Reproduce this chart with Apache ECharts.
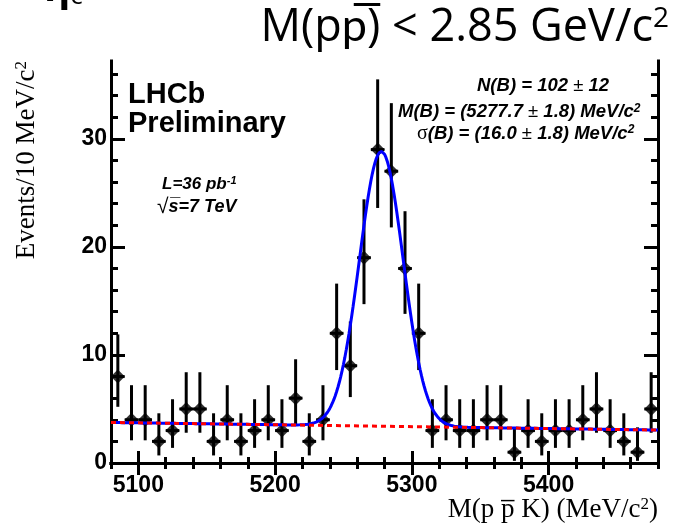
<!DOCTYPE html>
<html>
<head>
<meta charset="utf-8">
<script src="https://cdn.jsdelivr.net/npm/echarts@6/dist/echarts.min.js"></script>
<style>
  html, body { margin: 0; padding: 0; background: #ffffff; }
  #chart { width: 675px; height: 524px; }
</style>
</head>
<body>
<div id="chart"></div>
<script>
// Invariant-mass histogram of p pbar K candidates, 10 MeV/c^2 bins
const binCentres = [5085, 5095, 5105, 5115, 5125, 5135, 5145, 5155, 5165, 5175,
                    5185, 5195, 5205, 5215, 5225, 5235, 5245, 5255, 5265, 5275,
                    5285, 5295, 5305, 5315, 5325, 5335, 5345, 5355, 5365, 5375,
                    5385, 5395, 5405, 5415, 5425, 5435, 5445, 5455, 5465, 5475];
const counts = [8, 4, 4, 2, 3, 5, 5, 2, 4, 2,
                3, 4, 3, 6, 2, 4, 12, 9, 19, 29,
                27, 18, 12, 3, 4, 3, 3, 4, 4, 1,
                3, 2, 3, 3, 4, 5, 3, 2, 1, 5];
// lower and upper ends of the (asymmetric) error bars
const errLow = [5.2, 2.1, 2.1, 0.7, 1.4, 2.8, 2.8, 0.7, 2.1, 0.7,
                1.4, 2.1, 1.4, 3.6, 0.7, 2.1, 8.6, 6.1, 14.7, 23.6,
                21.8, 13.8, 8.6, 1.4, 2.1, 1.4, 1.4, 2.1, 2.1, 0.2,
                1.4, 0.7, 1.4, 1.4, 2.1, 2.8, 1.4, 0.7, 0.2, 2.8];
const errHigh = [11.9, 7.2, 7.2, 4.6, 5.9, 8.4, 8.4, 4.6, 7.2, 4.6,
                 5.9, 7.2, 5.9, 9.6, 4.6, 7.2, 16.6, 13.1, 24.4, 35.5,
                 33.3, 23.3, 16.6, 5.9, 7.2, 5.9, 5.9, 7.2, 7.2, 3.3,
                 5.9, 4.6, 5.9, 5.9, 7.2, 8.4, 5.9, 4.6, 3.3, 8.4];
const binWidth = 10;

// Fit results printed on the plot
const fitYield = 102;      // N(B)
const fitMean = 5277.7;    // M(B), MeV/c^2
const fitSigma = 16.0;     // sigma(B), MeV/c^2
// linear background level at the two ends of the mass window
const bkgLow = 3.75;
const bkgHigh = 3.05;

// Axes
const massMin = 5080, massMax = 5480;
const yMax = 37.2;
const xTickLabels = [5100, 5200, 5300, 5400];
const yTickLabels = [0, 10, 20, 30];

const xMinorTicks = [];
for (let v = massMin; v <= massMax; v += 20) xMinorTicks.push(v);
const yMinorTicks = [];
for (let v = 0; v <= 36; v += 2) yMinorTicks.push(v);

function background(m) {
  return bkgLow + (bkgHigh - bkgLow) * (m - massMin) / (massMax - massMin);
}
const peakHeight = fitYield * binWidth / (Math.sqrt(2 * Math.PI) * fitSigma);
const totalCurve = [];
for (let m = massMin; m <= massMax; m += 1) {
  const z = (m - fitMean) / fitSigma;
  totalCurve.push([m, background(m) + peakHeight * Math.exp(-0.5 * z * z)]);
}
const bkgCurve = [[massMin, background(massMin)], [massMax, background(massMax)]];

const points = binCentres.map((m, i) => [m, counts[i], errLow[i], errHigh[i]]);

const ROOT_FONT = '"Liberation Sans", Arial, Helvetica, sans-serif';
const SERIF = '"Liberation Serif", "Times New Roman", serif';
const SLIDE_FONT = '"Open Sans", Lato, sans-serif';

const frameLine = { show: true, lineStyle: { color: '#000', width: 3, cap: 'square' } };
const plainNumber = v => String(v);
function majorAxisX(pos, labels) {
  return {
    type: 'value', gridIndex: 0, position: pos, min: massMin, max: massMax,
    axisLine: frameLine,
    axisTick: { show: true, inside: true, length: 12, customValues: xTickLabels,
                lineStyle: { color: '#000', width: 3 } },
    axisLabel: labels ? { show: true, customValues: xTickLabels, margin: 11, formatter: plainNumber,
                          color: '#000', fontFamily: ROOT_FONT, fontWeight: 'bold', fontSize: 23 }
                      : { show: false },
    splitLine: { show: false }
  };
}
function minorAxisX(pos) {
  return {
    type: 'value', gridIndex: 1, position: pos, min: massMin, max: massMax,
    axisLine: { show: false },
    axisTick: { show: true, inside: true, length: 6, customValues: xMinorTicks,
                lineStyle: { color: '#000', width: 3 } },
    axisLabel: { show: false }, splitLine: { show: false }
  };
}
function majorAxisY(pos, labels) {
  return {
    type: 'value', gridIndex: 0, position: pos, min: 0, max: yMax,
    axisLine: frameLine,
    axisTick: { show: true, inside: true, length: 14, customValues: yTickLabels,
                lineStyle: { color: '#000', width: 3 } },
    axisLabel: labels ? { show: true, customValues: yTickLabels, margin: 4, formatter: plainNumber,
                          color: '#000', fontFamily: ROOT_FONT, fontWeight: 'bold', fontSize: 23 }
                      : { show: false },
    splitLine: { show: false }
  };
}
function minorAxisY(pos) {
  return {
    type: 'value', gridIndex: 1, position: pos, min: 0, max: yMax,
    axisLine: { show: false },
    axisTick: { show: true, inside: true, length: 7, customValues: yMinorTicks,
                lineStyle: { color: '#000', width: 3 } },
    axisLabel: { show: false }, splitLine: { show: false }
  };
}

const gridBox = { left: 111, right: 17, top: 61, bottom: 61, containLabel: false };

const chart = echarts.init(document.getElementById('chart'), null, { renderer: 'canvas' });
chart.setOption({
  animation: false,
  backgroundColor: '#ffffff',
  grid: [Object.assign({}, gridBox), Object.assign({}, gridBox)],
  xAxis: [majorAxisX('bottom', true), majorAxisX('top', false), minorAxisX('bottom'), minorAxisX('top')],
  yAxis: [majorAxisY('left', true), majorAxisY('right', false), minorAxisY('left'), minorAxisY('right')],
  series: [
    {
      name: 'errors', type: 'custom', xAxisIndex: 0, yAxisIndex: 0,
      data: points,
      renderItem: function (params, api) {
        const m = api.value(0), n = api.value(1);
        const top = api.coord([m, api.value(3)]);
        const bottom = api.coord([m, api.value(2)]);
        const left = api.coord([m - binWidth / 2, n]);
        const right = api.coord([m + binWidth / 2, n]);
        return {
          type: 'group',
          children: [
            { type: 'line', shape: { x1: top[0], y1: top[1], x2: bottom[0], y2: bottom[1] },
              style: { stroke: '#000', lineWidth: 3 } },
            { type: 'line', shape: { x1: left[0], y1: left[1], x2: right[0], y2: right[1] },
              style: { stroke: '#000', lineWidth: 3 } }
          ]
        };
      },
      z: 2
    },
    {
      name: 'data', type: 'scatter', xAxisIndex: 0, yAxisIndex: 0,
      data: points.map(p => [p[0], p[1]]),
      symbol: 'diamond', symbolSize: [14, 14],
      itemStyle: { color: '#000' }, z: 3
    },
    {
      name: 'fit', type: 'line', xAxisIndex: 0, yAxisIndex: 0,
      data: totalCurve, showSymbol: false, smooth: false,
      lineStyle: { color: '#0000ff', width: 3 }, z: 4
    },
    {
      name: 'background', type: 'line', xAxisIndex: 0, yAxisIndex: 0,
      data: bkgCurve, showSymbol: false,
      lineStyle: { color: '#ff0000', width: 3, type: [5, 4] }, z: 5
    }
  ],
  graphic: [
    // slide heading
    {
      type: 'text', x: 669, y: 28, z: 10,
      style: {
        text: '{t|M(pp\u0305) < 2.85 GeV/c}{s|2}',
        align: 'right', verticalAlign: 'middle',
        rich: {
          t: { fontFamily: SLIDE_FONT, fontSize: 45, fill: '#000' },
          s: { fontFamily: SLIDE_FONT, fontSize: 28, fill: '#000', verticalAlign: 'top' }
        }
      }
    },
    // previous heading line, cut by the top edge
    {
      type: 'text', x: 44, y: 10, z: 10,
      style: {
        text: '{e|\u03b7}{c|c}',
        align: 'left', verticalAlign: 'bottom',
        rich: {
          e: { fontFamily: SLIDE_FONT, fontSize: 40, fontWeight: 'bold', fill: '#000' },
          c: { fontFamily: SLIDE_FONT, fontSize: 26, fill: '#000', verticalAlign: 'bottom' }
        }
      }
    },
    // axis titles
    {
      type: 'text', x: 27, y: 61, rotation: Math.PI / 2, z: 10,
      style: {
        text: '{t|Events/10 MeV/c}{s|2}',
        align: 'right', verticalAlign: 'middle',
        rich: {
          t: { fontFamily: SERIF, fontSize: 27, fill: '#000' },
          s: { fontFamily: SERIF, fontSize: 17, fill: '#000', verticalAlign: 'top' }
        }
      }
    },
    {
      type: 'text', x: 658, y: 510, z: 10,
      style: {
        text: '{t|M(p p\u0305 K) (MeV/c}{s|2}{t|)}',
        align: 'right', verticalAlign: 'middle',
        rich: {
          t: { fontFamily: SERIF, fontSize: 27, fill: '#000' },
          s: { fontFamily: SERIF, fontSize: 17, fill: '#000', verticalAlign: 'top' }
        }
      }
    },
    // experiment label
    {
      type: 'text', x: 128, y: 95, z: 10,
      style: { text: 'LHCb', fontFamily: ROOT_FONT, fontWeight: 'bold', fontSize: 29,
               fill: '#000', align: 'left', verticalAlign: 'middle' }
    },
    {
      type: 'text', x: 128, y: 124, z: 10,
      style: { text: 'Preliminary', fontFamily: ROOT_FONT, fontWeight: 'bold', fontSize: 29,
               fill: '#000', align: 'left', verticalAlign: 'middle' }
    },
    {
      type: 'text', x: 162, y: 184, z: 10,
      style: {
        text: '{t|L=36 pb}{s|-1}',
        align: 'left', verticalAlign: 'middle',
        rich: {
          t: { fontFamily: ROOT_FONT, fontWeight: 'bold', fontStyle: 'italic', fontSize: 17, fill: '#000' },
          s: { fontFamily: ROOT_FONT, fontWeight: 'bold', fontStyle: 'italic', fontSize: 11, fill: '#000', verticalAlign: 'top' }
        }
      }
    },
    {
      type: 'text', x: 157, y: 207, z: 10,
      style: {
        text: '{r|\u221a}{t|s\u0305=7 TeV}',
        align: 'left', verticalAlign: 'middle',
        rich: {
          r: { fontFamily: ROOT_FONT, fontSize: 21, fill: '#000' },
          t: { fontFamily: ROOT_FONT, fontWeight: 'bold', fontStyle: 'italic', fontSize: 18, fill: '#000' }
        }
      }
    },
    // fit results
    {
      type: 'text', x: 477, y: 86, z: 10,
      style: {
        text: '{i|N(B) = 102}{n| \u00b1 }{i|12}',
        align: 'left', verticalAlign: 'middle',
        rich: {
          i: { fontFamily: ROOT_FONT, fontWeight: 'bold', fontStyle: 'italic', fontSize: 18.5, fill: '#000' },
          n: { fontFamily: ROOT_FONT, fontSize: 18.5, fill: '#000' }
        }
      }
    },
    {
      type: 'text', x: 398, y: 112, z: 10,
      style: {
        text: '{i|M(B) = (5277.7}{n| \u00b1 }{i|1.8) MeV/c}{s|2}',
        align: 'left', verticalAlign: 'middle',
        rich: {
          i: { fontFamily: ROOT_FONT, fontWeight: 'bold', fontStyle: 'italic', fontSize: 18.5, fill: '#000' },
          n: { fontFamily: ROOT_FONT, fontSize: 18.5, fill: '#000' },
          s: { fontFamily: ROOT_FONT, fontWeight: 'bold', fontStyle: 'italic', fontSize: 12, fill: '#000', verticalAlign: 'top' }
        }
      }
    },
    {
      type: 'text', x: 417, y: 134, z: 10,
      style: {
        text: '{g|\u03c3}{i|(B) = (16.0}{n| \u00b1 }{i|1.8) MeV/c}{s|2}',
        align: 'left', verticalAlign: 'middle',
        rich: {
          g: { fontFamily: SERIF, fontSize: 20, fill: '#000' },
          i: { fontFamily: ROOT_FONT, fontWeight: 'bold', fontStyle: 'italic', fontSize: 18.5, fill: '#000' },
          n: { fontFamily: ROOT_FONT, fontSize: 18.5, fill: '#000' },
          s: { fontFamily: ROOT_FONT, fontWeight: 'bold', fontStyle: 'italic', fontSize: 12, fill: '#000', verticalAlign: 'top' }
        }
      }
    }
  ]
});
</script>
</body>
</html>
